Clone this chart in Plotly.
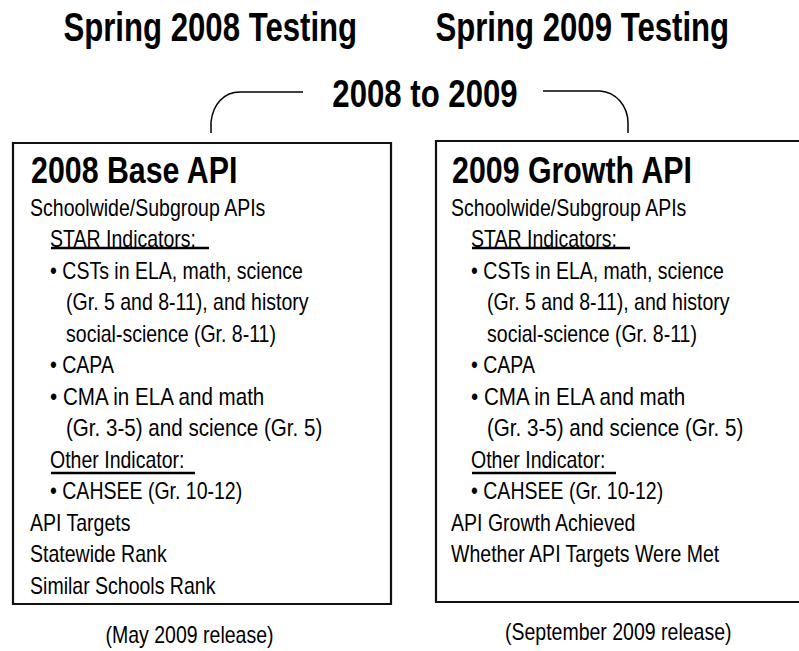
import json
import plotly.graph_objects as go

FONT = "Liberation Sans, Arial, sans-serif"
NARROW = 0.82  # horizontal scale emulating a narrow face

titles = ["Spring 2008 Testing", "Spring 2009 Testing"]
connector_label = "2008 to 2009"
box_headers = ["2008 Base API", "2009 Growth API"]
# (text, indent level, wider)
left_lines = [
    ("Schoolwide/Subgroup APIs", 0, False),
    ("STAR Indicators: ", 1, False),
    ("• CSTs in ELA, math, science", 1, False),
    ("(Gr. 5 and 8-11), and history", 2, False),
    ("social-science (Gr. 8-11)", 2, False),
    ("• CAPA", 1, False),
    ("• CMA in ELA and math", 1, True),
    ("(Gr. 3-5) and science (Gr. 5)", 2, True),
    ("Other Indicator: ", 1, False),
    ("• CAHSEE (Gr. 10-12)", 1, False),
    ("API Targets", 0, False),
    ("Statewide Rank", 0, False),
    ("Similar Schools Rank", 0, False),
]
right_lines = [
    ("Schoolwide/Subgroup APIs", 0, False),
    ("STAR Indicators: ", 1, False),
    ("• CSTs in ELA, math, science", 1, False),
    ("(Gr. 5 and 8-11), and history", 2, False),
    ("social-science (Gr. 8-11)", 2, False),
    ("• CAPA", 1, False),
    ("• CMA in ELA and math", 1, True),
    ("(Gr. 3-5) and science (Gr. 5)", 2, True),
    ("Other Indicator: ", 1, False),
    ("• CAHSEE (Gr. 10-12)", 1, False),
    ("API Growth Achieved", 0, False),
    ("Whether API Targets Were Met", 0, False),
]
releases = ["(May 2009 release)", "(September 2009 release)"]

W, H = 799, 651
fig = go.Figure()
fig.add_trace(go.Scatter(x=[0], y=[0], mode="markers", marker=dict(opacity=0),
                         hoverinfo="skip", showlegend=False))

ann = []
scales = []
shapes = []


def add_text(x, y, text, size, anchor="left", bold=False, scale=NARROW, color="black"):
    ann.append(dict(x=x, y=y, text=("<b>%s</b>" % text) if bold else text,
                    xanchor=anchor, yanchor="middle",
                    font=dict(family=FONT, size=size, color=color), showarrow=False,
                    borderpad=0, borderwidth=0))
    scales.append(scale)


# titles
for t, cx in zip(titles, [210, 582]):
    add_text(cx, 27, t, 41, "center", bold=True, scale=0.76)
add_text(425, 94, connector_label, 38, "center", bold=True)

# connectors
shapes.append(dict(type="path", path="M 211 133 L 211 122 C 213 104, 224 92, 240 92 L 303 92",
                   line=dict(color="black", width=1.5)))
shapes.append(dict(type="path", path="M 543 91 L 600 91 C 616 92, 628 106, 628 123 L 628 133",
                   line=dict(color="black", width=1.5)))

# boxes
shapes.append(dict(type="rect", x0=13, x1=391, y0=143, y1=604, line=dict(color="#111", width=2.2)))
shapes.append(dict(type="rect", x0=436, x1=820, y0=141, y1=602, line=dict(color="#111", width=2.2)))

for hdr, x0 in zip(box_headers, [31, 452]):
    add_text(x0, 170, hdr, 37, bold=True)

indent = [0, 19.5, 36]
for lines, x0 in [(left_lines, 30), (right_lines, 451)]:
    for i, (txt, lvl, wide) in enumerate(lines):
        add_text(x0 + indent[lvl], 207 + 31.5 * i, txt, 23.8,
                 scale=0.865 if wide else NARROW)

# underlines
for x0 in [51, 472]:
    shapes.append(dict(type="line", x0=x0, x1=x0 + 158, y0=248, y1=248, line=dict(color="black", width=2.5)))
    shapes.append(dict(type="line", x0=x0, x1=x0 + 144, y0=473, y1=473, line=dict(color="black", width=2.5)))

for t, cx, cy in zip(releases, [189, 618], [634, 631]):
    add_text(cx, cy, t, 23.8, "center")

fig.update_layout(
    width=W, height=H, margin=dict(l=0, r=0, t=0, b=0),
    paper_bgcolor="white", plot_bgcolor="white",
    xaxis=dict(range=[0, W], visible=False, fixedrange=True),
    yaxis=dict(range=[H, 0], visible=False, fixedrange=True),
    annotations=ann, shapes=shapes, showlegend=False,
)

post = """
document.body.style.margin = '0';
var gd = document.getElementById('{plot_id}');
var scales = %s;
gd.querySelectorAll('g.annotation').forEach(function (g) {
  var i = +g.getAttribute('data-index');
  var a = gd.layout.annotations[i];
  var s = scales[i];
  var t = g.querySelector('text.annotation-text');
  if (!t) return;
  var b = t.getBBox();
  var ox = a.xanchor === 'left' ? b.x : (a.xanchor === 'right' ? b.x + b.width : b.x + b.width / 2);
  t.setAttribute('transform', 'translate(' + (ox * (1 - s)) + ',0) scale(' + s + ',1)');
});
""" % json.dumps(scales)

fig.write_html("out.html", post_script=post, config={"responsive": False, "staticPlot": True})
